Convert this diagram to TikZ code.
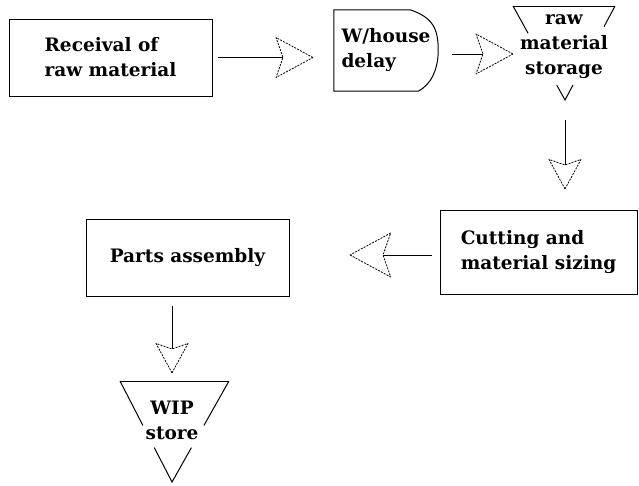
\documentclass[tikz,border=0pt]{standalone}
\usepackage{fontspec}
\setmainfont{DejaVu Serif}
\usetikzlibrary{calc}

\tikzset{
  box/.style={draw, line width=1pt, align=left, inner sep=0pt},
  lbl/.style={align=center, inner sep=0pt},
  flow/.style={line width=0.9pt},
  headline/.style={line width=0.8pt, dash pattern=on 2pt off 1.2pt, line join=round},
  flowhead/.pic={\draw[headline] (30,0) -- (-7,-20) -- (0,0) -- (-7,20) -- cycle;}
}

\begin{document}
\begin{tikzpicture}[x=1pt, y=-1pt, font=\fontsize{18.5}{25}\selectfont\bfseries]
\useasboundingbox (0,0) rectangle (639,485);

\coordinate (rms-l) at (513,6);
\coordinate (rms-r) at (615,6);
\coordinate (rms-v) at (565,100);
\coordinate (wip-l) at (120,381);
\coordinate (wip-r) at (229,381);
\coordinate (wip-v) at (172,482);

\node[box, minimum width=203pt, minimum height=77pt] (recv) at (110.5,57.5) {Receival of\\raw material};
\node[lbl, align=left, minimum width=104pt, minimum height=81pt] (whd) at (386,50.5) {W/house\\delay};
\node[lbl] (rms) at (564,47) {raw\\material\\storage};
\node[box, minimum width=197pt, minimum height=84pt] (cut) at (538.5,252) {Cutting and\\material sizing};
\node[box, minimum width=203pt, minimum height=77pt] (parts) at (187.5,257.5) {Parts assembly};
\node[lbl] (wip) at (172,420) {WIP\\store};

\draw[line width=1pt] (whd.north west) -- ($(whd.north east)+(-28,0)$)
  .. controls ($(whd.north east)+(-4,8)$) and ($(whd.east)+(0,-20)$) .. (whd.east)
  .. controls ($(whd.east)+(0,20)$) and ($(whd.south east)+(-8,-6)$) .. ($(whd.south east)+(-20,0)$)
  -- (whd.south west) -- cycle;

\draw[line width=1pt] (rms-l) -- (rms-r);
\draw[line width=1pt] (rms-l) -- ($(rms-l)!0.29!(rms-v)$) ($(rms-l)!0.84!(rms-v)$) -- (rms-v)
  -- ($(rms-r)!0.84!(rms-v)$) ($(rms-r)!0.22!(rms-v)$) -- (rms-r);
\draw[line width=1pt] (wip-l) -- (wip-r);
\draw[line width=1pt] (wip-l) -- ($(wip-l)!0.44!(wip-v)$) ($(wip-l)!0.66!(wip-v)$) -- (wip-v)
  -- ($(wip-r)!0.66!(wip-v)$) ($(wip-r)!0.44!(wip-v)$) -- (wip-r);

\coordinate (n1) at (283,57.5);
\coordinate (n2) at (483,54);
\coordinate (n3) at (565,165);
\coordinate (n4) at (383,255);
\coordinate (n5) at (172,349);

\draw[flow, shorten <=5pt] (recv) -- (n1) pic {flowhead};
\draw[flow, shorten <=14pt] (whd.east |- n2) -- (n2) pic {flowhead};
\draw[flow, shorten <=20pt] (rms-v) -- (n3) pic[rotate=-90, scale=0.8] {flowhead};
\draw[flow, shorten <=8pt] (cut.west |- n4) -- (n4) pic[rotate=180, scale=1.1] {flowhead};
\draw[flow, shorten <=9pt] (parts.south -| n5) -- (n5) pic[rotate=-90, scale=0.8] {flowhead};
\end{tikzpicture}
\end{document}
